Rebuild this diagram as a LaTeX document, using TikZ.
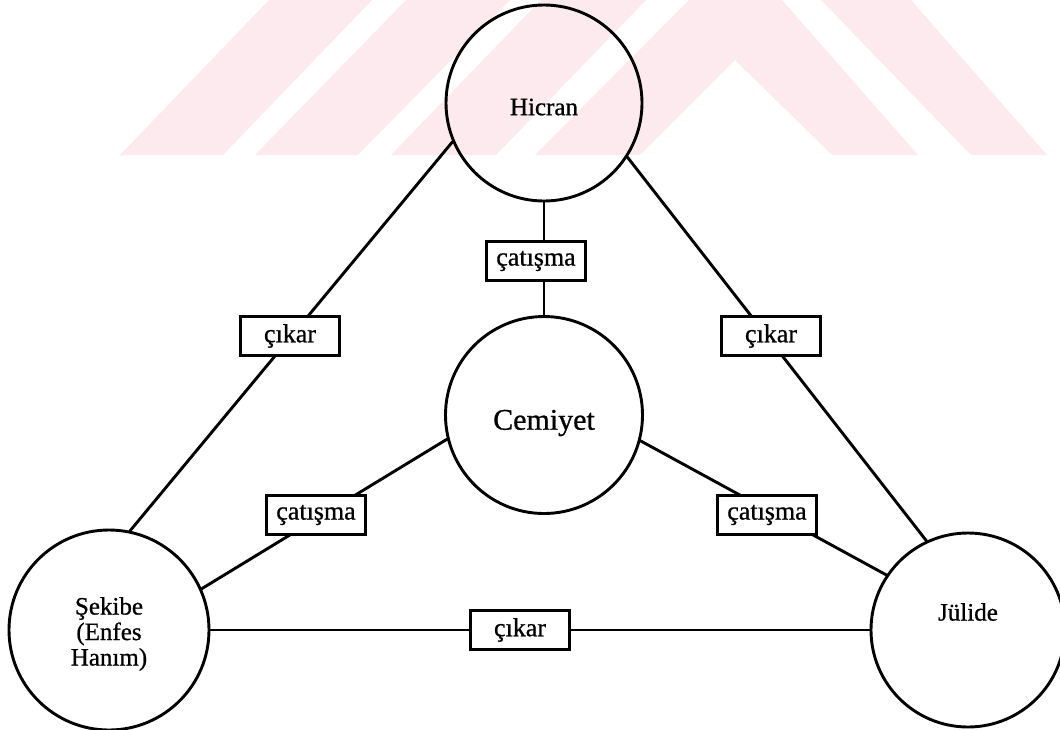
\documentclass[tikz,border=0pt]{standalone}
\usepackage{fontspec}
\setmainfont{Liberation Serif}[FakeBold=0.8]
\definecolor{markpink}{RGB}{252,234,239}
\begin{document}
\begin{tikzpicture}[x=1pt,y=-1pt,
  person/.style={circle, draw=black, line width=2.9pt, minimum size=#1, inner sep=0pt},
  persname/.style={font=\fontsize{25}{25.5}\selectfont, align=center},
  relbox/.style={draw=black, fill=white, line width=2.2pt, minimum width=99pt,
    minimum height=39pt, inner sep=0pt, font=\fontsize{26}{26}\selectfont},
  link/.style={line width=2.9pt, line cap=round}]
\useasboundingbox (0,0) rectangle (1060,729);

% faint background mark: slanted stripes at the top
\begin{scope}[fill=markpink]
  \fill (120,155) -- (223,155) -- (372,0) -- (269,0) -- cycle;
  \fill (255,155) -- (358,155) -- (510,0) -- (406,0) -- cycle;
  \fill (391,155) -- (496,155) -- (646,0) -- (541,0) -- cycle;
  \fill (535,155) -- (640,155) -- (735,60) -- (832,155) -- (918,155)
        -- (782,0) -- (689,0) -- cycle;
  \fill (821,0) -- (911,0) -- (1047,155) -- (971,155) -- cycle;
\end{scope}

% characters
\node[person=196pt, label={[name=hicranname, persname, yshift=-4pt]center:Hicran}]
  (hicran) at (544,103) {};
\node[person=197pt, label={[name=cemiyetname, persname, yshift=-8pt,
    font=\fontsize{30}{30}\selectfont]center:Cemiyet}]
  (cemiyet) at (544,415) {};
\node[person=200pt, label={[name=sekibename, persname, yshift=-4pt]center:Şekibe\\(Enfes\\Hanım)}]
  (sekibe) at (109,630) {};
\node[person=194pt, label={[name=julidename, persname, yshift=18pt]center:Jülide}]
  (julide) at (968,630) {};

% relations
\draw[link] (hicran) -- (cemiyet);
\draw[link] (hicran.203) -- (sekibe.78);
\draw[link] (hicran.327) -- (julide.115);
\draw[link] (cemiyet.194.6) -- (sekibe.24);
\draw[link] (cemiyet.345.4) -- (julide.146.8);
\draw[link] (sekibe) -- (julide);

% relation labels
\node[relbox] (catA) at (536,261) {çatışma};
\node[relbox] (cikA) at (290,336) {çıkar};
\node[relbox] (cikB) at (771,336) {çıkar};
\node[relbox] (catB) at (316,515) {çatışma};
\node[relbox] (catC) at (767,515) {çatışma};
\node[relbox] (cikC) at (520,630) {çıkar};
\end{tikzpicture}
\end{document}
